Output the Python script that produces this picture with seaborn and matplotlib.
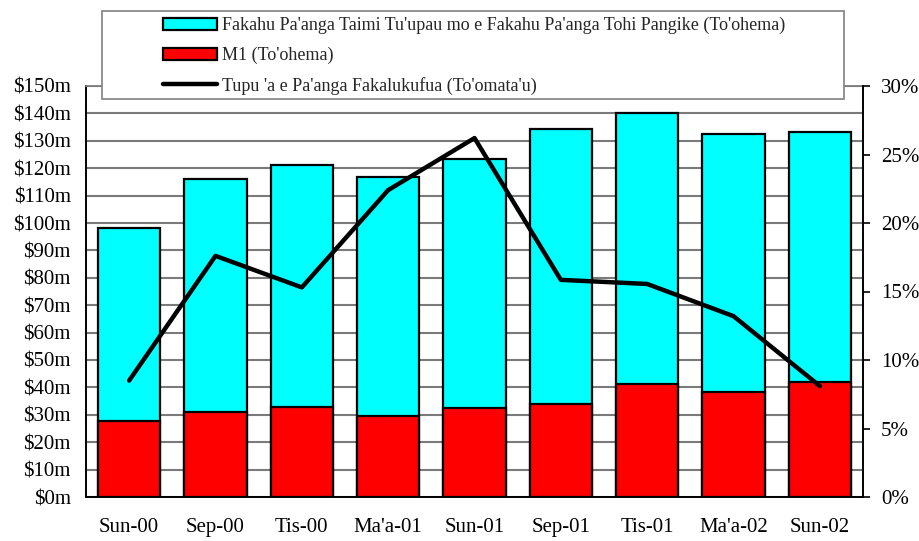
import numpy as np
import pandas as pd
import matplotlib
matplotlib.use("Agg")
import matplotlib.pyplot as plt
from matplotlib.patches import Patch, Rectangle
from matplotlib.lines import Line2D
from matplotlib.ticker import FuncFormatter, MultipleLocator
import seaborn as sns

# data
periods = ["Sun-00", "Sep-00", "Tis-00", "Ma'a-01", "Sun-01", "Sep-01", "Tis-01", "Ma'a-02", "Sun-02"]
m1 = [27.7, 31.1, 32.7, 29.4, 32.5, 33.9, 41.2, 38.4, 41.8]           # $m
deposits = [70.3, 84.9, 88.4, 87.4, 90.8, 100.4, 99.1, 94.2, 91.4]    # $m, stacked on M1
growth = [8.5, 17.6, 15.3, 22.4, 26.2, 15.85, 15.55, 13.2, 8.1]      # %

lab_dep = "Fakahu Pa'anga Taimi Tu'upau mo e Fakahu Pa'anga Tohi Pangike (To'ohema)"
lab_m1 = "M1 (To'ohema)"
lab_growth = "Tupu 'a e Pa'anga Fakalukufua (To'omata'u)"

df = pd.DataFrame({"period": periods, "m1": m1, "deposits": deposits, "growth": growth})
df["total"] = df["m1"] + df["deposits"]

sns.set_theme(style="white")
plt.rcParams["font.family"] = ["Liberation Serif", "DejaVu Serif"]

fig = plt.figure(figsize=(9.2, 5.41), dpi=100)
ax = fig.add_axes([86 / 920, 44 / 541, 777 / 920, 411 / 541])

# stacked bars: total in cyan, M1 drawn over it in red
sns.barplot(data=df, x="period", y="total", color="#00ffff", saturation=1, width=0.72,
            edgecolor="black", linewidth=1.6, ax=ax)
sns.barplot(data=df, x="period", y="m1", color="#ff0000", saturation=1, width=0.72,
            edgecolor="black", linewidth=1.6, ax=ax)

ax.set_ylim(0, 150)
ax.set_xlim(-0.5, len(periods) - 0.5)
ax.yaxis.set_major_locator(MultipleLocator(10))
ax.yaxis.set_major_formatter(FuncFormatter(lambda v, p: f"${v:.0f}m"))
ax.grid(axis="y", color="#7a7a7a", linewidth=1.5)
ax.set_axisbelow(True)
ax.set_xlabel("")
ax.set_ylabel("")
ax.tick_params(axis="y", length=0, pad=11, labelsize=15, colors="black")
ax.tick_params(axis="x", length=0, pad=15, labelsize=15, colors="black")
for s in ["left", "bottom"]:
    ax.spines[s].set_color("black")
    ax.spines[s].set_linewidth(1.4)
ax.spines["top"].set_color("#7a7a7a")
ax.spines["right"].set_visible(False)

# growth line on the right axis
ax2 = ax.twinx()
sns.lineplot(x=np.arange(len(periods)), y=df["growth"], color="black", linewidth=3.2, ax=ax2)
ax2.set_ylim(0, 30)
ax2.yaxis.set_major_locator(MultipleLocator(5))
ax2.yaxis.set_major_formatter(FuncFormatter(lambda v, p: f"{v:.0f}%"))
ax2.set_ylabel("")
ax2.tick_params(axis="y", direction="out", length=5, width=1.2, pad=8, labelsize=15, colors="black")
ax2.grid(False)
for s in ["left", "top", "bottom"]:
    ax2.spines[s].set_visible(False)
ax2.spines["right"].set_color("black")
ax2.spines["right"].set_linewidth(1.4)

# legend box over the top of the plot
fig.add_artist(Rectangle((102 / 920, 1 - 99 / 541), 742 / 920, 88 / 541, transform=fig.transFigure,
                         facecolor="white", edgecolor="#808080", linewidth=1.2, zorder=4))
handles = [Patch(facecolor="#00ffff", edgecolor="black", linewidth=1.6),
           Patch(facecolor="#ff0000", edgecolor="black", linewidth=1.6),
           Line2D([], [], color="black", linewidth=3.2)]
leg = fig.legend(handles, [lab_dep, lab_m1, lab_growth], loc="upper left",
                 bbox_to_anchor=(163 / 920, 1 - 17 / 541), frameon=False, fontsize=13,
                 handlelength=3.0, handleheight=0.7, handletextpad=0.25, labelspacing=0.7,
                 borderpad=0, borderaxespad=0)
leg.set_zorder(5)

fig.savefig("out.png", dpi=100)
